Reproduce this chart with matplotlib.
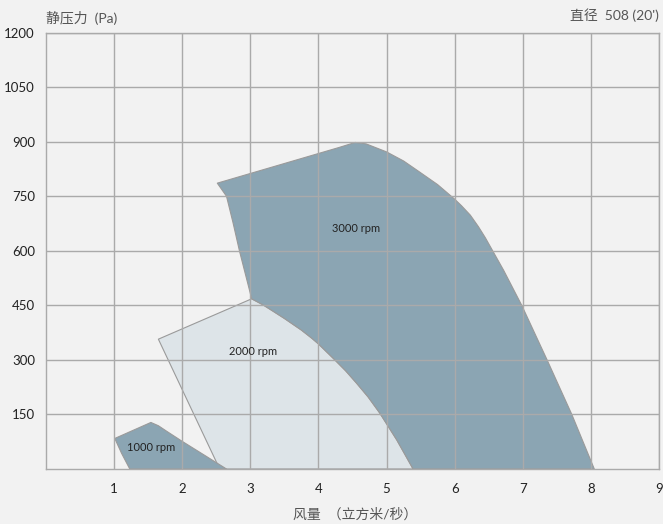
import matplotlib.pyplot as plt
from matplotlib.patches import Polygon

plt.rcParams['font.family'] = ['Lato', 'Noto Sans CJK SC', 'DejaVu Sans']

# rpm curves: outline vertices (flow m3/s, pressure Pa)
x3000 = [2.515, 4.30, 4.54, 4.70, 5.00, 5.25, 5.49, 5.75, 6.00, 6.10, 6.23, 6.35, 6.45, 6.54, 6.72,
         6.985, 7.357, 7.72, 8.05,
         5.39, 5.27, 5.15, 4.90, 4.73, 4.56, 4.40, 4.23, 4.00, 3.90, 3.75, 3.50, 3.35, 3.19, 3.02,
         2.84, 2.745, 2.65]
y3000 = [786, 884, 898, 894, 872, 847, 816, 782, 742, 724, 698, 666, 636, 606, 546,
         450, 300, 150, 0,
         0, 40, 80, 154, 198, 236, 270, 302, 344, 360, 382, 414, 432, 451, 468,
         600, 678, 750]

x2000 = [1.65, 3.02, 3.19, 3.35, 3.50, 3.75, 3.90, 4.00, 4.23, 4.40, 4.56, 4.73, 4.90, 5.15, 5.27, 5.39, 2.55]
y2000 = [357, 468, 451, 432, 414, 382, 360, 344, 302, 270, 236, 198, 154, 80, 40, 0, 0]

x1000 = [1.01, 1.54, 1.65, 1.77, 2.00, 2.18, 2.36, 2.65, 1.23, 1.11]
y1000 = [84, 128, 119, 104, 76, 55, 34, 0, 0, 43]

labels = ["3000 rpm", "2000 rpm", "1000 rpm"]
label_x = [4.55, 3.04, 1.55]
label_y = [662, 322, 60]

xticks = [1, 2, 3, 4, 5, 6, 7, 8, 9]
yticks = [150, 300, 450, 600, 750, 900, 1050, 1200]

bg = "#f2f2f2"
dark = "#8ba5b3"
light = "#dde4e8"
edge = "#9a9a9a"

fig = plt.figure(figsize=(6.63, 5.24), dpi=100, facecolor=bg)
ax = fig.add_axes([46/663, 55/524, 613/663, 436.4/524])
ax.set_facecolor(bg)

for xs, ys, col in [(x2000, y2000, light), (x3000, y3000, dark), (x1000, y1000, dark)]:
    ax.add_patch(Polygon(list(zip(xs, ys)), closed=True, facecolor=col,
                         edgecolor=edge, linewidth=0.8, joinstyle="round", zorder=1))

for t, lx, ly in zip(labels, label_x, label_y):
    ax.text(lx, ly, t, ha="center", va="center", fontsize=8, color="#222222", zorder=3)

ax.set_xlim(0, 9)
ax.set_ylim(0, 1200)
ax.set_xticks(xticks)
ax.set_yticks(yticks)
ax.tick_params(length=0, labelsize=9.5, colors="#222222", pad=8)
ax.tick_params(axis="x", pad=10)
ax.grid(True, color="#aaaaaa", linewidth=1, zorder=2)
for s in ax.spines.values():
    s.set_color("#aaaaaa")
    s.set_linewidth(1)

fig.text(46/663, 1 - 18/524, "静压力  (Pa)", ha="left", va="center", fontsize=10, color="#555555")
fig.text(659/663, 1 - 15/524, "直径  508 (20')", ha="right", va="center", fontsize=10, color="#555555")
fig.text(355/663, 1 - 514/524, "风量  （立方米/秒）", ha="center", va="center", fontsize=10, color="#555555")

fig.savefig("out.png", dpi=100, facecolor=bg)
